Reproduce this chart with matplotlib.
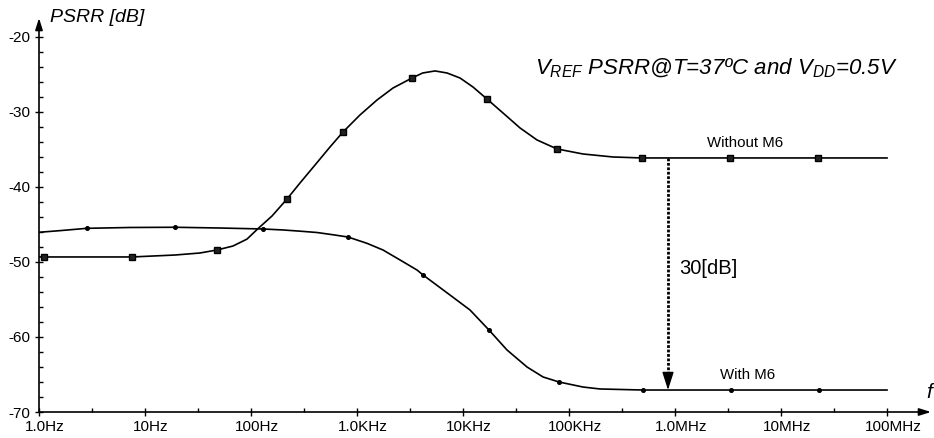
import numpy as np
import matplotlib
matplotlib.use("Agg")
import matplotlib.pyplot as plt
from matplotlib.transforms import ScaledTranslation

plt.rcParams["font.family"] = ["Liberation Sans", "DejaVu Sans"]
plt.rcParams["mathtext.fontset"] = "custom"
plt.rcParams["mathtext.it"] = "Liberation Sans:italic"
plt.rcParams["mathtext.rm"] = "Liberation Sans"

# curves: log10(f / Hz) and PSRR in dB
without_logf = [0.0, 0.05, 0.877, 1.283, 1.519, 1.679, 1.830, 1.962, 2.066, 2.198,
                2.340, 2.462, 2.604, 2.745, 2.868, 3.028, 3.189, 3.340, 3.519, 3.620,
                3.736, 3.849, 3.972, 4.094, 4.226, 4.377, 4.538, 4.698, 4.887, 5.132,
                5.415, 5.689, 6.519, 7.349, 8.0]
without_db = [-49.33, -49.33, -49.33, -49.07, -48.80, -48.40, -47.87, -46.95, -45.55, -43.87,
              -41.60, -39.47, -37.07, -34.67, -32.67, -30.40, -28.40, -26.80, -25.47, -24.80,
              -24.53, -24.80, -25.47, -26.67, -28.27, -30.13, -32.13, -33.73, -34.93, -35.60,
              -36.00, -36.13, -36.13, -36.13, -36.13]
without_marks = [1, 2, 5, 10, 14, 18, 24, 28, 31, 32, 33]

with_logf = [0.0, 0.198, 0.453, 0.858, 1.283, 1.708, 2.113, 2.302, 2.462, 2.623,
             2.774, 2.915, 3.094, 3.245, 3.406, 3.566, 3.623, 3.877, 4.066, 4.245,
             4.415, 4.604, 4.755, 4.906, 5.132, 5.292, 5.698, 6.528, 7.358, 8.0]
with_db = [-46.04, -45.82, -45.51, -45.40, -45.37, -45.47, -45.60, -45.73, -45.89, -46.07,
           -46.37, -46.67, -47.51, -48.40, -49.73, -51.07, -51.73, -54.40, -56.40, -59.07,
           -61.73, -64.00, -65.33, -66.00, -66.67, -66.93, -67.07, -67.07, -67.07, -67.07]
with_marks = [2, 4, 6, 11, 16, 19, 23, 26, 27, 28]

x_ticks = 10.0 ** np.arange(9)
x_labels = ["1.0Hz", "10Hz", "100Hz", "1.0KHz", "10KHz", "100KHz", "1.0MHz", "10MHz", "100MHz"]
y_ticks = [-70, -60, -50, -40, -30, -20]

gap_f = 10 ** 5.934
gap_top, gap_bottom = -36.13, -67.07

fig = plt.figure(figsize=(9.34, 4.38), dpi=100)
ax = fig.add_axes([39 / 934, 26 / 438, 892 / 934, 394 / 438])
ax.set_xscale("log")
ax.set_xlim(1, 10 ** 8.415)
ax.set_ylim(-70, -17.47)

ax.plot(10 ** np.array(without_logf), without_db, color="black", lw=1.2,
        marker="s", ms=3.8, mfc="#222222", mec="black", markevery=without_marks)
ax.plot(10 ** np.array(with_logf), with_db, color="black", lw=1.2,
        marker="o", ms=2.6, mfc="black", mec="black", markevery=with_marks)

# axes drawn as arrows
for spine in ax.spines.values():
    spine.set_visible(False)
arrow = dict(arrowstyle="-|>,head_length=0.7,head_width=0.22", color="black",
             lw=1.2, shrinkA=0, shrinkB=0, mutation_scale=10)
ax.annotate("", xy=(1, 0), xytext=(0, 0), xycoords="axes fraction", arrowprops=arrow)
ax.annotate("", xy=(0, 1), xytext=(0, 0), xycoords="axes fraction", arrowprops=arrow)

ax.set_xticks(x_ticks)
ax.set_xticklabels(x_labels, fontsize=11)
ax.set_xticks(10.0 ** (np.arange(8) + 0.5), minor=True)
ax.xaxis.set_minor_formatter(matplotlib.ticker.NullFormatter())
ax.set_yticks(y_ticks)
ax.set_yticklabels([str(v) for v in y_ticks], fontsize=11)
ax.set_yticks(np.arange(-70, -19, 2), minor=True)
ax.tick_params(which="major", direction="inout", length=6, width=1, pad=3)
ax.tick_params(which="minor", direction="in", length=3, width=1)
for lab in ax.get_xticklabels():
    lab.set_transform(lab.get_transform() + ScaledTranslation(0.06, 0, fig.dpi_scale_trans))

# 30 dB gap marker
ax.plot([gap_f, gap_f], [gap_top, gap_bottom + 1.2], color="black", lw=2,
        ls=(0, (1, 0.6)))
ax.annotate("", xy=(gap_f, gap_bottom), xytext=(gap_f, gap_bottom + 1.6),
            arrowprops=dict(arrowstyle="-|>,head_length=1.1,head_width=0.35",
                            color="black", lw=1, shrinkA=0, shrinkB=0, mutation_scale=10))
ax.text(10 ** 6.04, -50.93, "30[dB]", fontsize=14.5, ha="left", va="center")

ax.text(10 ** 6.66, -34.13, "Without M6", fontsize=10.8, ha="center", va="center")
ax.text(10 ** 6.68, -65.07, "With M6", fontsize=10.8, ha="center", va="center")
ax.text(10 ** 4.679, -24.13, r"$V_{REF}$ PSRR@T=37ºC and $V_{DD}$=0.5V",
        fontsize=16, style="italic", ha="left", va="center")

fig.text(50 / 934, 1 - 17 / 438, "PSRR [dB]", fontsize=14, style="italic",
         ha="left", va="center")
fig.text(926 / 934, 1 - 392 / 438, "f", fontsize=15, style="italic",
         ha="left", va="center")

fig.savefig("out.png", dpi=100)
